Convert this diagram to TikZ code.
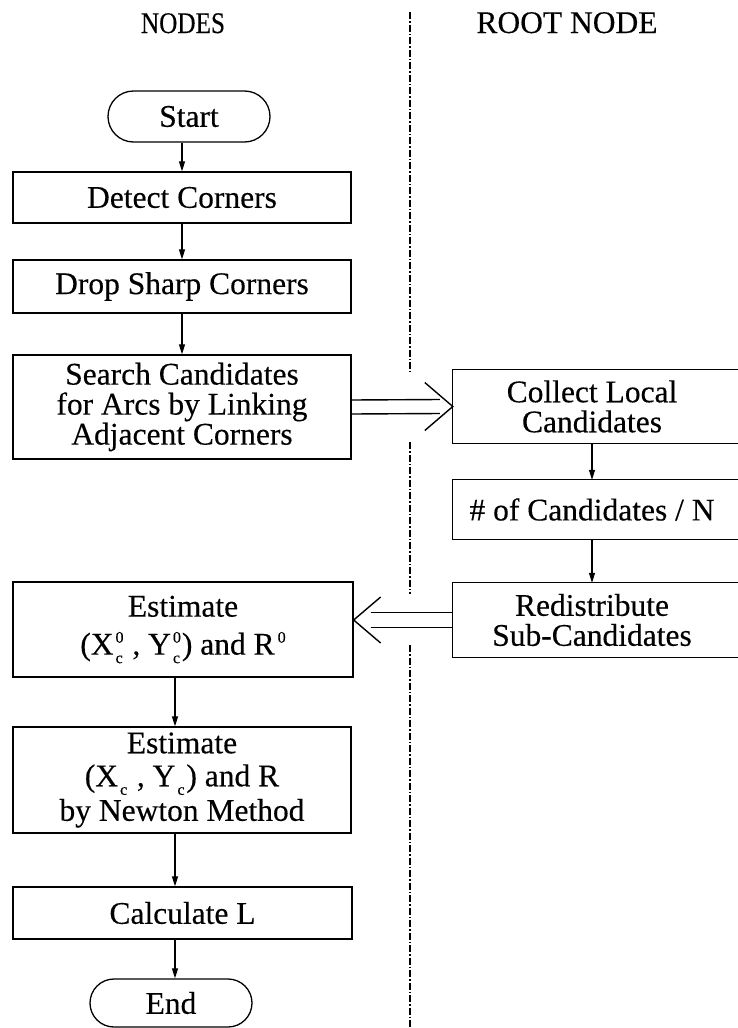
\documentclass[tikz,border=0pt]{standalone}
\usepackage{fontspec}
\setmainfont[FakeBold=0.3]{Liberation Serif}
\usetikzlibrary{shapes.misc,arrows.meta,calc}
\newcommand{\mysbsp}[2]{\kern2pt\makebox[9pt][l]{\rlap{\raisebox{12pt}{\fontsize{16}{16}\selectfont #1}}\raisebox{-8.5pt}{\fontsize{16}{16}\selectfont #2}}}
\newcommand{\mysps}[1]{\raisebox{12pt}{\fontsize{16}{16}\selectfont #1}}
\begin{document}
\begin{tikzpicture}[x=1pt,y=-1pt,
  every node/.style={font=\fontsize{31.5}{30}\selectfont, inner sep=0pt},
  box/.style={draw, line width=1.3pt, align=center},
  term/.style={draw, line width=1.3pt, rounded rectangle, rounded rectangle arc length=180},
  arr/.style={line width=1.1pt, -{Triangle[length=10pt,width=6pt]}},
  dbl/.style={line width=1.4pt},
  divider/.style={line width=1.1pt, dash pattern=on 7pt off 2pt on 1.5pt off 2pt},
  rbox/.style={align=center},
  head/.style={anchor=base}
]
\useasboundingbox (0,0) rectangle (738,1028);
\clip (0,0) rectangle (738,1028);

% headings
\node[head] (hn) at (183,33) {\scalebox{0.8}[0.95]{NODES}};
\node[head] (hr) at (567,33) {ROOT NODE};

% divider
\draw[divider] (410,12) -- (410,372);
\draw[divider] (410,442) -- (410,594);
\draw[divider] (410,645) -- (410,1028);

% left column
\node[term, minimum width=162, minimum height=51] (start) at (189,116.5) {Start};
\node[box, minimum width=338, minimum height=51] (detect) at (182,197.5) {Detect Corners};
\node[box, minimum width=338, minimum height=53] (drop) at (182,286.5) {Drop Sharp Corners};
\node[box, minimum width=338, minimum height=104] (search) at (182,407) {Search Candidates\\for Arcs by Linking\\Adjacent Corners};
\node[box, minimum width=340, minimum height=95] (est1) at (183,629.5) {Estimate\\[8pt](X\mysbsp{0}{c} , Y\mysbsp{0}{c})\ and R\kern3pt\mysps{0}};
\node[box, minimum width=338, minimum height=106] (est2) at (182,780) {Estimate\\[3pt](X\mysbsp{}{c} , Y\mysbsp{}{c})\ and R\\[3pt]by Newton Method};
\node[box, minimum width=339, minimum height=52] (calc) at (182.5,913) {Calculate L};
\node[term, minimum width=162, minimum height=48] (end) at (171,1003) {End};

% right column
\node[rbox, minimum width=278, minimum height=73] (collect) at (592,406.5) {Collect Local\\Candidates};
\node[rbox, minimum width=278, minimum height=59] (numc) at (592,509.5) {\# of Candidates / N};
\node[rbox, minimum width=278, minimum height=74] (redis) at (592,620) {Redistribute\\Sub-Candidates};
\foreach \n in {collect,numc,redis}
  \draw[line width=1.3pt] (\n.north west) rectangle ($(\n.south east)+(40,0)$);

% single arrows
\draw[arr] (detect.north |- start.south) -- (detect.north);
\draw[arr] (detect) -- (drop);
\draw[arr] (drop) -- (search);
\draw[arr] (collect) -- (numc);
\draw[arr] (numc) -- (redis);
\coordinate (lc) at (175,0);
\draw[arr] (est1.south -| lc) -- (est2.north -| lc);
\draw[arr] (est2.south -| lc) -- (calc.north -| lc);
\draw[arr] (calc.south -| lc) -- (end.north -| lc);

% double arrow: search -> collect
\draw[dbl] ($(search.east)+(0,-7)$) -- ($(collect.west)+(-13,-7)$);
\draw[dbl] ($(search.east)+(0,7)$) -- ($(collect.west)+(-13,7)$);
\draw[dbl] ($(collect.west)+(-28,-24)$) -- (collect.west) -- ($(collect.west)+(-28,24)$);

% double arrow: redis -> est1
\coordinate (t2) at (est1.east |- redis.west);
\draw[dbl] ($(t2)+(17,-7.5)$) -- ($(redis.west)+(0,-7.5)$);
\draw[dbl] ($(t2)+(17,7.5)$) -- ($(redis.west)+(0,7.5)$);
\draw[dbl] ($(t2)+(27,-23)$) -- (t2) -- ($(t2)+(27,23)$);
\end{tikzpicture}
\end{document}
